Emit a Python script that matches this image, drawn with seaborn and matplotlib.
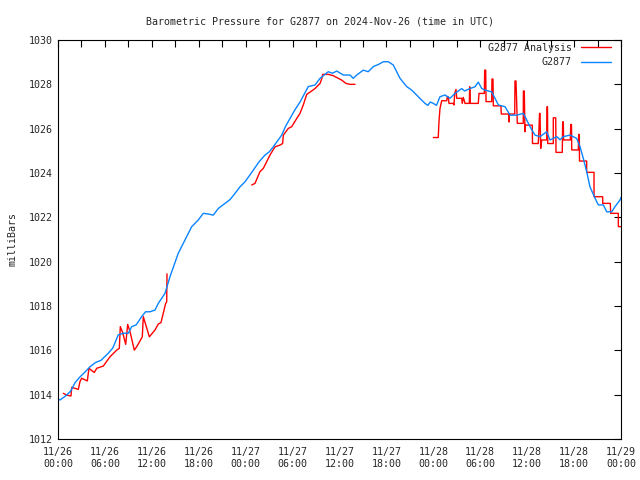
import numpy as np
import pandas as pd
import matplotlib
matplotlib.use("Agg")
import matplotlib.pyplot as plt
import seaborn as sns

# ---------------- data (hours since 2024-11-26 00:00 UTC, pressure in mb) ----------------
obs_hours = [0.00, 0.26, 1.0, 1.6, 2.2, 2.81, 3.4, 4.09, 4.8, 5.5, 6.43, 7.0, 7.71, 8.35, 8.99,
             9.43, 10.0, 10.70, 11.2, 11.77, 12.41, 12.83, 13.68, 14.32, 15.38, 16.24, 17.10,
             17.94, 18.58, 19.2, 19.86, 20.50, 21.36, 22.0, 22.64, 23.28, 23.91, 24.98, 25.7,
             26.47, 27.0, 27.53, 28.61, 29.1, 29.67, 30.3, 30.95, 32.01, 32.87, 33.51, 34.57,
             35.1, 35.64, 36.49, 37.34, 37.76, 38.20, 39.04, 39.68, 40.32, 41.0, 41.60, 42.24,
             42.88, 43.74, 44.59, 45.23, 46.08, 46.93, 47.3, 47.6, 48.0, 48.4, 48.85, 49.49,
             50.13, 50.77, 51.63, 52.0, 52.69, 53.33, 53.75, 54.19, 54.61, 55.46, 55.89, 56.31,
             57.17, 57.81, 58.66, 59.51, 59.94, 60.36, 61.00, 61.64, 62.50, 62.92, 63.78, 64.2,
             64.62, 65.48, 66.33, 66.76, 67.18, 67.61, 68.03, 68.68, 69.10, 69.74, 70.17, 70.81,
             71.23, 71.87, 72.00]
obs_press = [1013.80, 1013.76, 1013.95, 1014.15, 1014.55, 1014.80, 1015.00, 1015.26, 1015.45,
             1015.55, 1015.87, 1016.10, 1016.70, 1016.77, 1016.77, 1017.07, 1017.15, 1017.52,
             1017.74, 1017.74, 1017.82, 1018.12, 1018.57, 1019.32, 1020.38, 1020.98, 1021.58,
             1021.88, 1022.18, 1022.15, 1022.10, 1022.40, 1022.63, 1022.80, 1023.08, 1023.38,
             1023.60, 1024.13, 1024.50, 1024.81, 1024.95, 1025.18, 1025.71, 1026.10, 1026.46,
             1026.85, 1027.20, 1027.90, 1027.97, 1028.27, 1028.57, 1028.50, 1028.60, 1028.42,
             1028.42, 1028.27, 1028.42, 1028.64, 1028.57, 1028.80, 1028.90, 1029.02, 1029.02,
             1028.87, 1028.27, 1027.90, 1027.74, 1027.44, 1027.14, 1027.05, 1027.20, 1027.14,
             1027.05, 1027.44, 1027.52, 1027.37, 1027.59, 1027.81, 1027.70, 1027.81, 1027.89,
             1028.10, 1027.81, 1027.74, 1027.66, 1027.37, 1027.07, 1026.99, 1026.61, 1026.61,
             1026.69, 1026.39, 1026.09, 1025.71, 1025.64, 1025.86, 1025.49, 1025.64, 1025.50,
             1025.64, 1025.71, 1025.56, 1025.19, 1024.66, 1024.06, 1023.38, 1022.86, 1022.56,
             1022.56, 1022.25, 1022.25, 1022.48, 1022.78, 1022.90]

ana1_hours = [0.68, 1.11, 1.66, 1.75, 2.60, 2.81, 3.03, 3.75, 3.96, 4.64, 4.95, 5.79, 6.65, 7.51,
              7.84, 7.97, 8.27, 8.66, 8.91, 9.21, 9.76, 10.06, 10.78, 10.91, 11.68, 12.41, 12.83,
              13.17, 13.77, 13.90, 13.94]
ana1_press = [1014.06, 1013.98, 1013.94, 1014.33, 1014.24, 1014.59, 1014.74, 1014.62, 1015.19,
              1015.00, 1015.19, 1015.29, 1015.71, 1016.01, 1016.09, 1017.07, 1016.80, 1016.27,
              1017.17, 1016.84, 1016.01, 1016.16, 1016.61, 1017.52, 1016.61, 1016.92, 1017.19,
              1017.25, 1018.12, 1018.19, 1019.45]

ana2_hours = [24.77, 25.19, 25.83, 26.26, 27.11, 27.75, 28.39, 28.73, 28.82, 29.45, 29.89, 30.53,
              30.95, 31.37, 31.81, 32.44, 32.87, 33.51, 33.72, 33.85, 34.57, 35.21, 35.85, 36.28,
              36.83, 37.34, 37.98]
ana2_press = [1023.46, 1023.53, 1024.06, 1024.21, 1024.81, 1025.18, 1025.26, 1025.33, 1025.71,
              1026.01, 1026.09, 1026.46, 1026.69, 1027.07, 1027.55, 1027.70, 1027.81, 1028.04,
              1028.24, 1028.45, 1028.45, 1028.39, 1028.27, 1028.19, 1028.04, 1028.00, 1028.00]

ana3_hours = [48.00, 48.63, 48.72, 48.85, 49.07, 49.71, 49.79, 49.91, 50.00, 50.55, 50.64, 50.73,
              50.90, 50.99, 51.63, 51.70, 51.83, 51.96, 52.05, 52.60, 52.65, 52.73, 53.75, 53.84,
              54.52, 54.57, 54.70, 54.74, 55.46, 55.50, 55.63, 55.67, 56.65, 56.69, 57.64, 57.68,
              57.72, 58.41, 58.44, 58.57, 58.74, 59.50, 59.52, 59.63, 59.72, 59.76, 60.66, 60.66,
              60.68, 61.42, 61.51, 61.58, 61.64, 61.73, 61.86, 62.50, 62.54, 62.60, 62.63, 63.34,
              63.34, 63.65, 63.69, 64.49, 64.54, 64.62, 64.66, 65.52, 65.57, 65.67, 65.70, 66.54,
              66.59, 66.67, 66.69, 67.61, 67.61, 68.55, 68.55, 69.66, 69.66, 70.63, 70.68, 71.66,
              71.66, 72.00]
ana3_press = [1025.60, 1025.60, 1026.31, 1026.91, 1027.26, 1027.26, 1027.44, 1027.44, 1027.14,
              1027.14, 1027.07, 1027.59, 1027.77, 1027.37, 1027.37, 1027.14, 1027.41, 1027.26,
              1027.14, 1027.14, 1027.89, 1027.14, 1027.14, 1027.59, 1027.59, 1028.64, 1028.64,
              1027.22, 1027.22, 1028.24, 1028.24, 1027.03, 1027.03, 1026.66, 1026.66, 1026.30,
              1026.66, 1026.66, 1028.15, 1028.15, 1026.24, 1026.24, 1027.70, 1027.70, 1025.86,
              1026.16, 1026.16, 1026.01, 1025.33, 1025.33, 1026.01, 1026.69, 1026.69, 1025.11,
              1025.49, 1025.49, 1026.99, 1026.99, 1025.33, 1025.33, 1026.49, 1026.49, 1024.93,
              1024.93, 1026.31, 1026.31, 1025.49, 1025.49, 1026.19, 1026.19, 1025.04, 1025.04,
              1025.74, 1025.74, 1024.54, 1024.54, 1024.03, 1024.03, 1022.93, 1022.93, 1022.63,
              1022.63, 1022.18, 1022.18, 1021.58, 1021.58]

tick_hours = list(range(0, 73, 6))
tick_labels = ["11/26\n00:00", "11/26\n06:00", "11/26\n12:00", "11/26\n18:00",
               "11/27\n00:00", "11/27\n06:00", "11/27\n12:00", "11/27\n18:00",
               "11/28\n00:00", "11/28\n06:00", "11/28\n12:00", "11/28\n18:00",
               "11/29\n00:00"]
y_ticks = list(range(1012, 1031, 2))

# ---------------- build frames ----------------
obs_df = pd.DataFrame({"hour": obs_hours, "press": obs_press})
ana_df = pd.concat([
    pd.DataFrame({"hour": ana1_hours, "press": ana1_press, "seg": 1}),
    pd.DataFrame({"hour": ana2_hours, "press": ana2_press, "seg": 2}),
    pd.DataFrame({"hour": ana3_hours, "press": ana3_press, "seg": 3}),
], ignore_index=True)

sns.set_style("white")
plt.rcParams["font.family"] = ["DejaVu Sans Mono"]
FS = 7.2

fig = plt.figure(figsize=(6.4, 4.8), dpi=100)
ax = fig.add_axes([58 / 640, 1 - 439 / 480, (621 - 58) / 640, (439 - 40) / 480])

RED = "#ff0000"
BLUE = "#0a84ff"
sns.lineplot(data=ana_df, x="hour", y="press", units="seg", estimator=None, sort=False,
             color=RED, linewidth=1.0, ax=ax, legend=False)
sns.lineplot(data=obs_df, x="hour", y="press", estimator=None, sort=False,
             color=BLUE, linewidth=1.0, ax=ax, legend=False)

ax.set_xlim(0, 72)
ax.set_ylim(1012, 1030)
ax.set_xticks(tick_hours)
ax.set_xticklabels(tick_labels, fontsize=FS)
ax.set_xticks(list(range(3, 72, 6)), minor=True)
ax.set_yticks(y_ticks)
ax.set_yticklabels([str(v) for v in y_ticks], fontsize=FS)
ax.tick_params(axis="both", which="both", direction="in", length=5, width=0.8,
               top=True, right=True, color="black", pad=4)
ax.tick_params(axis="x", which="major", pad=6)
ax.set_xlabel("")
ax.set_ylabel("milliBars", fontsize=FS, labelpad=8)
for s in ax.spines.values():
    s.set_color("black")
    s.set_linewidth(0.8)

fig.text(0.5, 1 - 21 / 480, "Barometric Pressure for G2877 on 2024-Nov-26 (time in UTC)",
         ha="center", va="center", fontsize=FS)

red_line = ax.lines[0]
blue_line = ax.lines[-1]
ax.legend([red_line, blue_line], ["G2877 Analysis", "G2877"], loc="upper right",
          bbox_to_anchor=((611 - 58) / 563, (439 - 43) / 399),
          frameon=False, markerfirst=False, fontsize=FS,
          handlelength=3.0, handletextpad=0.9, labelspacing=0.45,
          borderaxespad=0.0, borderpad=0.0)

fig.savefig("out.png", dpi=100, facecolor="white")
